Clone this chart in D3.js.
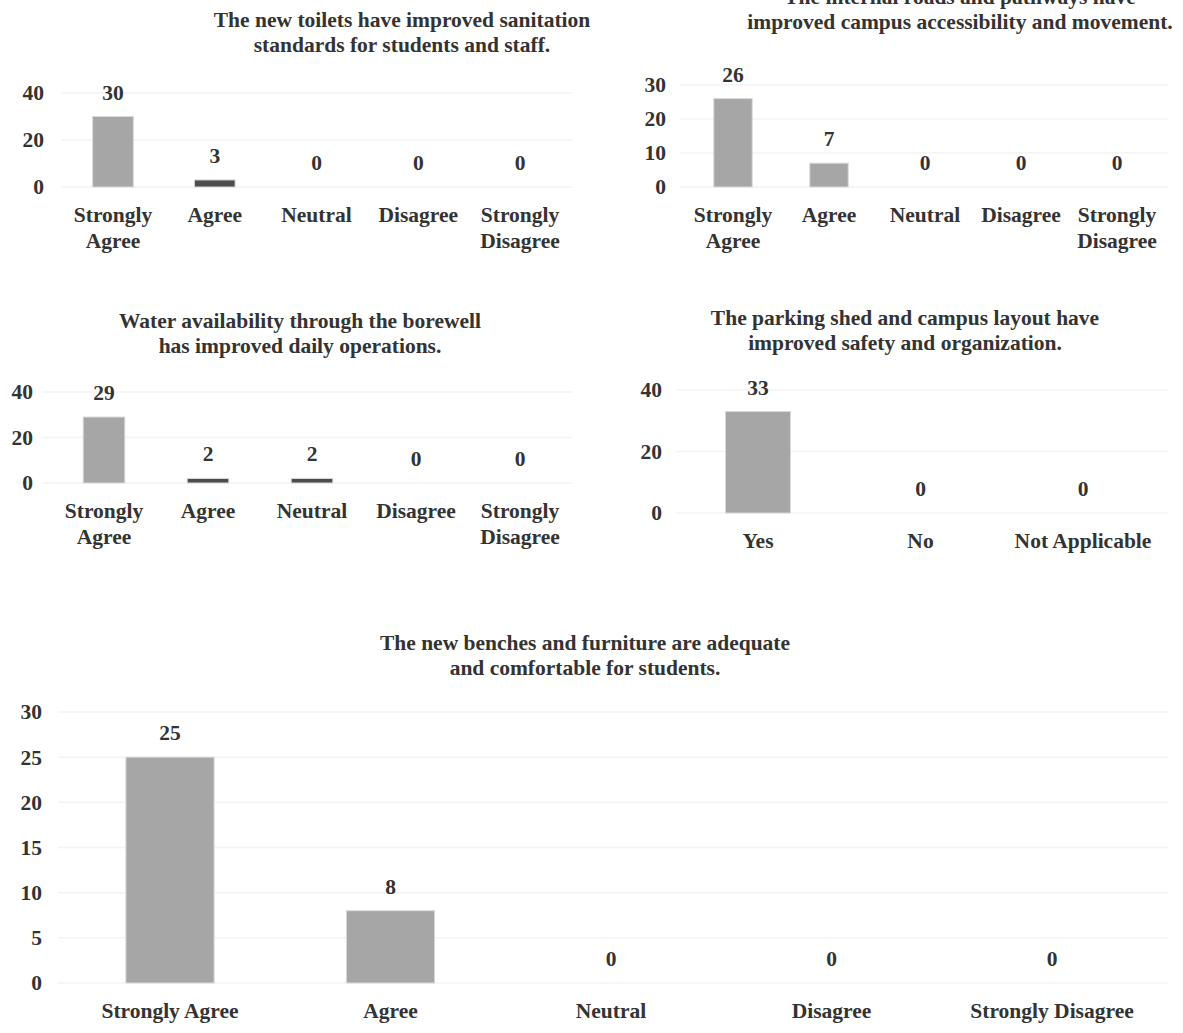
<!DOCTYPE html>
<html>
<head>
<meta charset="utf-8">
<script src="https://cdn.jsdelivr.net/npm/d3@7"></script>
<style>
  html, body { margin: 0; padding: 0; background: #fff; }
  svg { display: block; }
  text { font-family: "Liberation Serif", "Times New Roman", serif; font-weight: bold; fill: #333; }
</style>
</head>
<body>
<svg id="chart" width="1183" height="1033"></svg>
<script>
// Survey responses, one question per panel
const agreeScale = ["Strongly Agree", "Agree", "Neutral", "Disagree", "Strongly Disagree"];
const yesNoScale = ["Yes", "No", "Not Applicable"];

const toiletTitle = ["The new toilets have improved sanitation", "standards for students and staff."];
const toiletValues = [30, 3, 0, 0, 0];
const toiletTicks = [0, 20, 40];

const roadsTitle = ["The internal roads and pathways have", "improved campus accessibility and movement."];
const roadsValues = [26, 7, 0, 0, 0];
const roadsTicks = [0, 10, 20, 30];

const waterTitle = ["Water availability through the borewell", "has improved daily operations."];
const waterValues = [29, 2, 2, 0, 0];
const waterTicks = [0, 20, 40];

const parkingTitle = ["The parking shed and campus layout have", "improved safety and organization."];
const parkingValues = [33, 0, 0];
const parkingTicks = [0, 20, 40];

const benchTitle = ["The new benches and furniture are adequate", "and comfortable for students."];
const benchValues = [25, 8, 0, 0, 0];
const benchTicks = [0, 5, 10, 15, 20, 25, 30];

const svg = d3.select("#chart");
const fontSize = 21.5;

// Panel placement: first bar centre, bar step, y pixel for 0 and for the top tick,
// gridline extent, tick label right edge, title centre, whether category labels wrap
const panels = [
  { title: toiletTitle, cats: agreeScale, values: toiletValues, ticks: toiletTicks,
    c0: 113, step: 101.75, y0: 187, yTop: 93, gx: [62, 572], tickX: 44, titleX: 402, titleY: 27, wrap: true },
  { title: roadsTitle, cats: agreeScale, values: roadsValues, ticks: roadsTicks,
    c0: 733, step: 96, y0: 187, yTop: 85, gx: [680, 1168], tickX: 666, titleX: 960, titleY: 4, wrap: true },
  { title: waterTitle, cats: agreeScale, values: waterValues, ticks: waterTicks,
    c0: 104, step: 104, y0: 483, yTop: 392, gx: [42, 572], tickX: 33, titleX: 300, titleY: 328, wrap: true },
  { title: parkingTitle, cats: yesNoScale, values: parkingValues, ticks: parkingTicks,
    c0: 758, step: 162.5, y0: 513, yTop: 390, gx: [676, 1168], tickX: 662, titleX: 905, titleY: 325, wrap: false },
  { title: benchTitle, cats: agreeScale, values: benchValues, ticks: benchTicks,
    c0: 170, step: 220.5, y0: 983, yTop: 712, gx: [58, 1168], tickX: 42, titleX: 585, titleY: 650, wrap: false }
];

panels.forEach(p => {
  const g = svg.append("g");
  const n = p.cats.length;
  const pad = 0.6;
  const x = d3.scaleBand()
    .domain(p.cats)
    .range([p.c0 - p.step / 2, p.c0 + p.step * (n - 0.5)])
    .paddingInner(pad)
    .paddingOuter(pad / 2);
  const maxTick = p.ticks[p.ticks.length - 1];
  const y = d3.scaleLinear().domain([0, maxTick]).range([p.y0, p.yTop]);

  // faint horizontal gridlines
  g.append("g").selectAll("line").data(p.ticks).join("line")
    .attr("x1", p.gx[0]).attr("x2", p.gx[1])
    .attr("y1", d => y(d)).attr("y2", d => y(d))
    .attr("stroke", "#f3f3f3").attr("stroke-width", 1.5);

  // y axis labels
  const yAxis = g.append("g")
    .attr("transform", `translate(${p.tickX},0)`)
    .call(d3.axisLeft(y).tickValues(p.ticks).tickSize(0).tickPadding(0));
  yAxis.select(".domain").remove();
  yAxis.selectAll("text").attr("font-size", fontSize).attr("font-family", null).attr("fill", null);

  // bars
  g.append("g").selectAll("rect").data(p.values).join("rect")
    .attr("x", (d, i) => x(p.cats[i]))
    .attr("width", x.bandwidth())
    .attr("y", d => y(d))
    .attr("height", d => y(0) - y(d))
    .attr("fill", d => (y(0) - y(d)) < 8 ? "#4d4d4d" : "#a6a6a6")
    .attr("stroke", d => d > 0 ? "#d9d9d9" : "none")
    .attr("stroke-width", 1);

  // value labels
  g.append("g").selectAll("text").data(p.values).join("text")
    .attr("x", (d, i) => x(p.cats[i]) + x.bandwidth() / 2)
    .attr("y", d => y(d) - 17)
    .attr("text-anchor", "middle")
    .attr("font-size", fontSize)
    .text(d => d);

  // category labels
  const xAxis = g.append("g")
    .attr("transform", `translate(0,${p.y0})`)
    .call(d3.axisBottom(x).tickSize(0).tickPadding(0));
  xAxis.select(".domain").remove();
  xAxis.selectAll("text")
    .attr("font-size", fontSize).attr("font-family", null).attr("fill", null)
    .attr("dy", null).attr("y", 35)
    .each(function (d) {
      const t = d3.select(this);
      const words = p.wrap ? d.split(" ") : [d];
      t.text(null);
      words.forEach((w, i) => {
        t.append("tspan").attr("x", 0).attr("dy", i === 0 ? 0 : 26).text(w);
      });
    });

  // title
  const title = g.append("text")
    .attr("x", p.titleX).attr("y", p.titleY)
    .attr("text-anchor", "middle")
    .attr("font-size", fontSize);
  p.title.forEach((line, i) => {
    title.append("tspan").attr("x", p.titleX).attr("dy", i === 0 ? 0 : 25).text(line);
  });
});
</script>
</body>
</html>
